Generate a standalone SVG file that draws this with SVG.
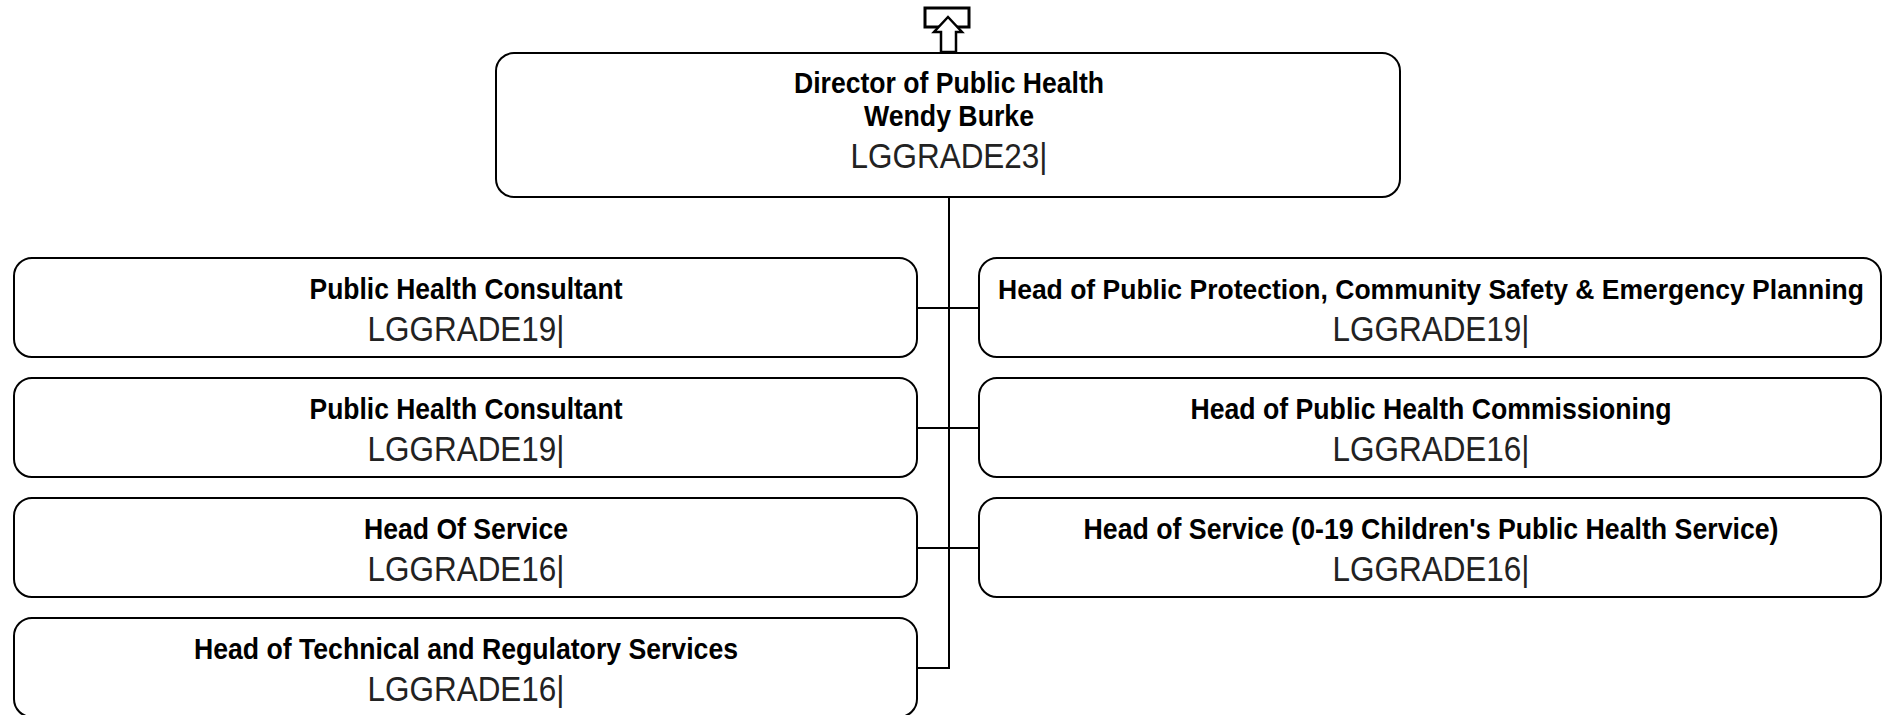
<svg xmlns="http://www.w3.org/2000/svg" width="1883" height="715" viewBox="0 0 1883 715">
<style>
.box{fill:#fff;stroke:#000;stroke-width:2}
.t{font-family:"Liberation Sans",Arial,sans-serif;font-weight:bold;font-size:30px;fill:#000;text-anchor:middle}
.g{font-family:"Liberation Sans",Arial,sans-serif;font-size:35.5px;fill:#222;text-anchor:middle}
.c{fill:none;stroke:#000;stroke-width:2}
</style>
<rect width="1883" height="715" fill="#fff"/>
<g id="connectors">
<path class="c" d="M949,197V668H917M917,308H979M917,428H979M917,548H979"/>
</g>
<g id="up-icon">
<rect x="925" y="8" width="44" height="19" fill="#fff" stroke="#000" stroke-width="3"/>
<polygon points="948,17 962,32 956,32 956,52 941,52 941,32 934,32" fill="#fff" stroke="#000" stroke-width="2.5"/>
</g>
<g id="director">
<rect class="box" x="496" y="53" width="904" height="144" rx="18"/>
<text class="t" x="949" y="93" textLength="310" lengthAdjust="spacingAndGlyphs">Director of Public Health</text>
<text class="t" x="949" y="126" textLength="170" lengthAdjust="spacingAndGlyphs">Wendy Burke</text>
<text class="g" x="949" y="168" textLength="197" lengthAdjust="spacingAndGlyphs">LGGRADE23|</text>
</g>
<g id="n1">
<rect class="box" x="14" y="258" width="903" height="99" rx="18"/>
<text class="t" x="466" y="299" textLength="313" lengthAdjust="spacingAndGlyphs">Public Health Consultant</text>
<text class="g" x="466" y="341" textLength="197" lengthAdjust="spacingAndGlyphs">LGGRADE19|</text>
</g>
<g id="n2">
<rect class="box" x="14" y="378" width="903" height="99" rx="18"/>
<text class="t" x="466" y="419" textLength="313" lengthAdjust="spacingAndGlyphs">Public Health Consultant</text>
<text class="g" x="466" y="461" textLength="197" lengthAdjust="spacingAndGlyphs">LGGRADE19|</text>
</g>
<g id="n3">
<rect class="box" x="14" y="498" width="903" height="99" rx="18"/>
<text class="t" x="466" y="539" textLength="204" lengthAdjust="spacingAndGlyphs">Head Of Service</text>
<text class="g" x="466" y="581" textLength="197" lengthAdjust="spacingAndGlyphs">LGGRADE16|</text>
</g>
<g id="n4">
<rect class="box" x="14" y="618" width="903" height="99" rx="18"/>
<text class="t" x="466" y="659" textLength="544" lengthAdjust="spacingAndGlyphs">Head of Technical and Regulatory Services</text>
<text class="g" x="466" y="701" textLength="197" lengthAdjust="spacingAndGlyphs">LGGRADE16|</text>
</g>
<g id="n5">
<rect class="box" x="979" y="258" width="902" height="99" rx="18"/>
<text class="t" x="1431" y="299" style="font-size:27px" textLength="866" lengthAdjust="spacingAndGlyphs">Head of Public Protection, Community Safety &amp; Emergency Planning</text>
<text class="g" x="1431" y="341" textLength="197" lengthAdjust="spacingAndGlyphs">LGGRADE19|</text>
</g>
<g id="n6">
<rect class="box" x="979" y="378" width="902" height="99" rx="18"/>
<text class="t" x="1431" y="419" textLength="481" lengthAdjust="spacingAndGlyphs">Head of Public Health Commissioning</text>
<text class="g" x="1431" y="461" textLength="197" lengthAdjust="spacingAndGlyphs">LGGRADE16|</text>
</g>
<g id="n7">
<rect class="box" x="979" y="498" width="902" height="99" rx="18"/>
<text class="t" x="1431" y="539" textLength="695" lengthAdjust="spacingAndGlyphs">Head of Service (0-19 Children's Public Health Service)</text>
<text class="g" x="1431" y="581" textLength="197" lengthAdjust="spacingAndGlyphs">LGGRADE16|</text>
</g>
</svg>
